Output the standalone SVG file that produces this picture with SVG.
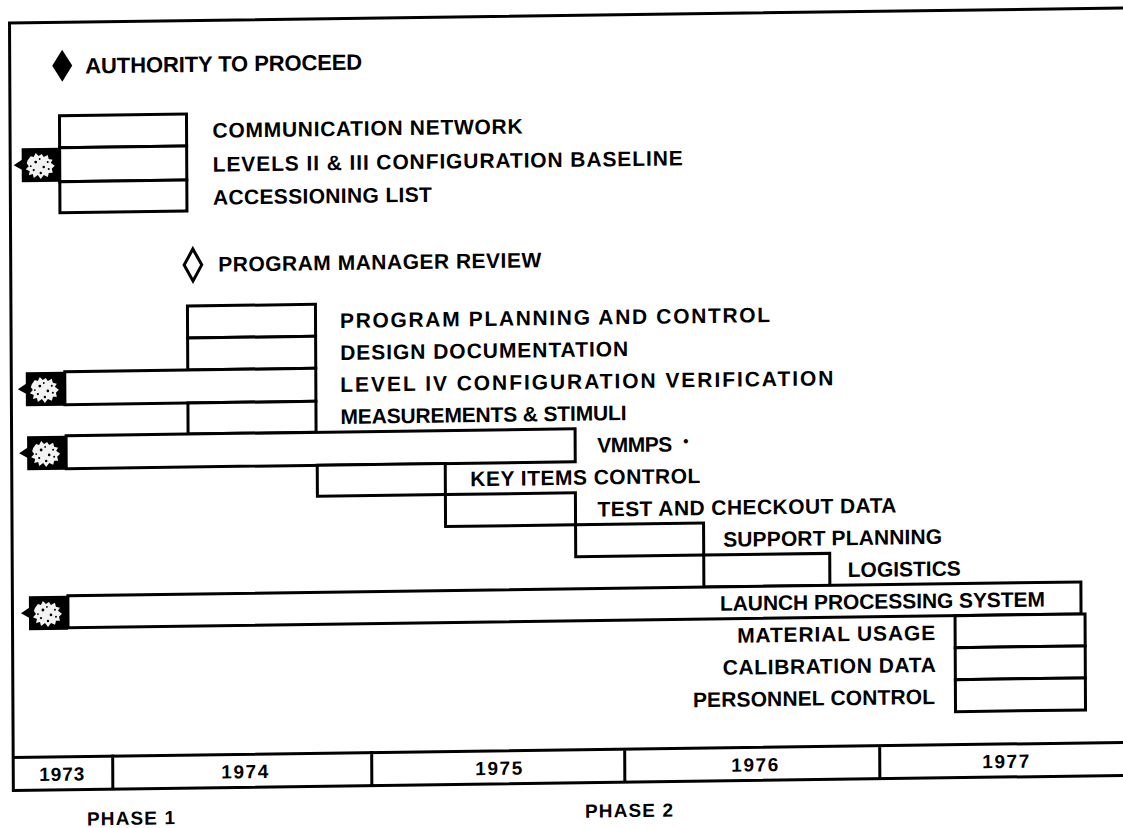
<svg xmlns="http://www.w3.org/2000/svg" width="1123" height="828" viewBox="0 0 1123 828">
<style>
.b{fill:#fff;stroke:#000;stroke-width:3}
.ln{stroke:#000;stroke-width:3;fill:none;stroke-linecap:square}
.t{font-family:"Liberation Sans",Arial,Helvetica,sans-serif;font-weight:bold;font-size:21px;fill:#000}
.yr{font-size:19px;text-anchor:middle}
</style>
<defs>
<g id="starter">
<polygon points="1,11 -8,17 1,22" fill="#000"/>
<rect x="0" y="0" width="39" height="34" fill="#000"/>
<polygon points="6,12 9,8 12,9 14,5 17,8 20,6 22,9 26,7 27,11 31,12 29,15 33,18 30,21 31,25 27,25 26,29 22,27 19,31 16,27 12,30 11,26 7,27 8,23 4,21 7,18 5,15" fill="#f2f2f2"/>
<circle cx="14" cy="14" r="1.4" fill="#000"/>
<circle cx="22" cy="19" r="1.3" fill="#000"/>
<circle cx="12" cy="22" r="1.1" fill="#000"/>
<circle cx="19" cy="25" r="1.2" fill="#000"/>
<circle cx="26" cy="14" r="1" fill="#000"/>
<circle cx="18" cy="11" r="0.9" fill="#000"/>
<circle cx="27" cy="21" r="1" fill="#000"/>
<circle cx="9" cy="18" r="0.9" fill="#000"/>
</g>
</defs>
<rect width="1123" height="828" fill="#fff"/>
<g transform="matrix(1 -0.0135 0.005 1 -2.07 7.57)">
  <g id="frame">
    <path class="ln" d="M11.5,15.6 H1150 M11.5,15.6 V783 M11.5,750 H1150 M11.5,783 H1150 M111,750 V783 M370,750 V783 M623,750 V783 M878,750 V783"/>
  </g>
  <g id="years" class="t yr">
    <text x="60" y="774" textLength="45">1973</text>
    <text x="243" y="774" textLength="47">1974</text>
    <text x="497" y="774" textLength="47">1975</text>
    <text x="753" y="774" textLength="47">1976</text>
    <text x="1004" y="774" textLength="47">1977</text>
  </g>
  <g id="phase-1"><text class="t" style="font-size:19px" x="85" y="819" textLength="88">PHASE 1</text></g>
  <g id="phase-2"><text class="t" style="font-size:19px" x="583" y="818" textLength="88">PHASE 2</text></g>

  <g id="authority-to-proceed">
    <polygon points="64,43 74,59 64,75 54,59" fill="#000"/>
    <text class="t" style="font-size:22px" x="87" y="67" textLength="277">AUTHORITY TO PROCEED</text>
  </g>
  <g id="communication-network">
    <rect class="b" x="61" y="109" width="127" height="32"/>
    <text class="t" x="214" y="133" textLength="310">COMMUNICATION NETWORK</text>
  </g>
  <g id="levels-2-3-configuration-baseline">
    <rect class="b" x="61" y="141" width="127" height="34"/>
    <use href="#starter" x="23" y="141"/>
    <text class="t" x="214" y="167" textLength="470">LEVELS II &amp; III CONFIGURATION BASELINE</text>
  </g>
  <g id="accessioning-list">
    <rect class="b" x="61" y="175" width="127" height="31"/>
    <text class="t" x="214" y="200" textLength="219">ACCESSIONING LIST</text>
  </g>
  <g id="program-manager-review">
    <polygon points="193.7,244 202.5,260 193.7,276 184.9,260" fill="#fff" stroke="#000" stroke-width="3"/>
    <text class="t" x="219" y="267" textLength="323">PROGRAM MANAGER REVIEW</text>
  </g>
  <g id="program-planning-and-control">
    <rect class="b" x="188" y="301" width="128" height="32"/>
    <text class="t" x="340.5" y="325" textLength="430">PROGRAM PLANNING AND CONTROL</text>
  </g>
  <g id="design-documentation">
    <rect class="b" x="188" y="333" width="128" height="32"/>
    <text class="t" x="340.5" y="357" textLength="288">DESIGN DOCUMENTATION</text>
  </g>
  <g id="level-4-configuration-verification">
    <rect class="b" x="65" y="365" width="251" height="33"/>
    <use href="#starter" x="26" y="365"/>
    <text class="t" x="340.5" y="389" textLength="493">LEVEL IV CONFIGURATION VERIFICATION</text>
  </g>
  <g id="measurements-and-stimuli">
    <rect class="b" x="188" y="398" width="128" height="31"/>
    <text class="t" x="340.5" y="421" textLength="286">MEASUREMENTS &amp; STIMULI</text>
  </g>
  <g id="vmmps">
    <rect class="b" x="66" y="429" width="509" height="33"/>
    <use href="#starter" x="27" y="429"/>
    <text class="t" x="597" y="453" textLength="75">VMMPS</text>
    <text class="t" style="font-size:15px" x="683" y="448">•</text>
  </g>
  <g id="key-items-control">
    <rect class="b" x="317" y="462" width="128" height="31"/>
    <text class="t" x="470" y="485" textLength="230">KEY ITEMS CONTROL</text>
  </g>
  <g id="test-and-checkout-data">
    <rect class="b" x="445" y="493" width="130" height="32"/>
    <text class="t" x="597" y="517" textLength="299">TEST AND CHECKOUT DATA</text>
  </g>
  <g id="support-planning">
    <rect class="b" x="575" y="525" width="128" height="32"/>
    <text class="t" x="722.5" y="549" textLength="219">SUPPORT PLANNING</text>
  </g>
  <g id="logistics">
    <rect class="b" x="703" y="557" width="126" height="32"/>
    <text class="t" x="847" y="581" textLength="113">LOGISTICS</text>
  </g>
  <g id="launch-processing-system">
    <rect class="b" x="67" y="589" width="1013" height="32"/>
    <use href="#starter" x="28" y="589"/>
    <text class="t" x="719" y="613" textLength="325">LAUNCH PROCESSING SYSTEM</text>
  </g>
  <g id="material-usage">
    <rect class="b" x="954" y="621" width="130" height="32"/>
    <text class="t" x="736" y="645" textLength="198">MATERIAL USAGE</text>
  </g>
  <g id="calibration-data">
    <rect class="b" x="954" y="653" width="130" height="32"/>
    <text class="t" x="721.5" y="677" textLength="213">CALIBRATION DATA</text>
  </g>
  <g id="personnel-control">
    <rect class="b" x="954" y="685" width="130" height="32"/>
    <text class="t" x="691.5" y="709" textLength="242">PERSONNEL CONTROL</text>
  </g>
</g>
</svg>
